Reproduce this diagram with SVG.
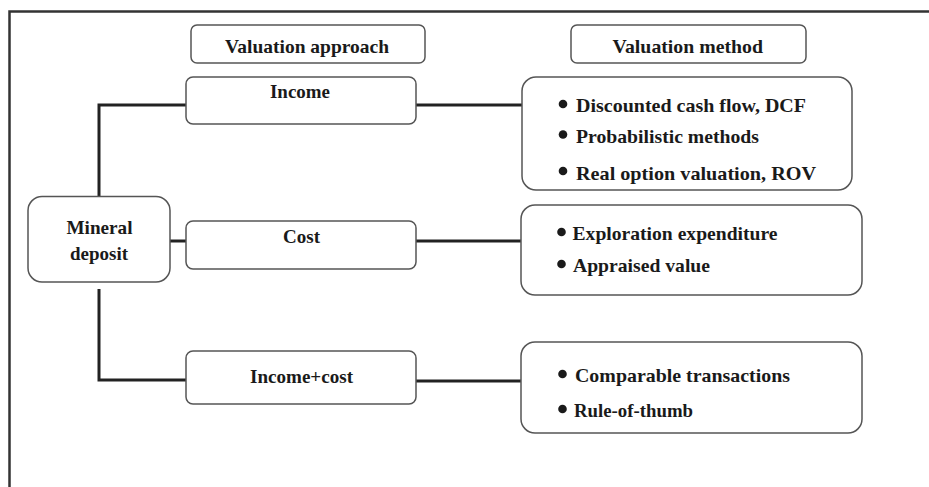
<svg xmlns="http://www.w3.org/2000/svg" width="929" height="487" viewBox="0 0 929 487">
<style>
.box{fill:#fff;stroke:#555;stroke-width:1.5}
.t{font-family:"Liberation Serif","Tinos","Noto Serif","DejaVu Serif","Times New Roman",serif;font-weight:bold;font-size:19px;fill:#1a1a1a}
.con{fill:none;stroke:#222;stroke-width:3}
.b{fill:#1a1a1a}
</style>
<rect width="929" height="487" fill="#fff"/>
<path d="M9.5,487 V11.5 H929" fill="none" stroke="#333" stroke-width="2.5"/>
<g id="connectors">
<path class="con" d="M186,105 H99 V196"/>
<path class="con" d="M170,241 H186"/>
<path class="con" d="M99,289 V380 H186"/>
<path class="con" d="M416,105 H522"/>
<path class="con" d="M416,241 H521"/>
<path class="con" d="M416,381 H521"/>
</g>
<g id="hdr-approach">
<rect class="box" x="191" y="25" width="234" height="38" rx="6"/>
<text class="t" x="225" y="53" textLength="164" lengthAdjust="spacingAndGlyphs">Valuation approach</text>
</g>
<g id="hdr-method">
<rect class="box" x="571" y="25" width="235" height="38" rx="6"/>
<text class="t" x="612.5" y="53" textLength="150.5" lengthAdjust="spacingAndGlyphs">Valuation method</text>
</g>
<g id="mineral">
<rect class="box" x="28" y="196.5" width="142" height="85.5" rx="14"/>
<text class="t" x="66.5" y="234" textLength="66" lengthAdjust="spacingAndGlyphs">Mineral</text>
<text class="t" x="70" y="260" textLength="58" lengthAdjust="spacingAndGlyphs">deposit</text>
</g>
<g id="income">
<rect class="box" x="186" y="77" width="230" height="47" rx="7"/>
<text class="t" x="270" y="98" textLength="60" lengthAdjust="spacingAndGlyphs">Income</text>
</g>
<g id="cost">
<rect class="box" x="186" y="221" width="230" height="48" rx="7"/>
<text class="t" x="283" y="242.5" textLength="37" lengthAdjust="spacingAndGlyphs">Cost</text>
</g>
<g id="incomecost">
<rect class="box" x="186" y="351" width="230" height="53" rx="7"/>
<text class="t" x="250" y="383" textLength="103" lengthAdjust="spacingAndGlyphs">Income+cost</text>
</g>
<g id="methods-income">
<rect class="box" x="522" y="77" width="330" height="113" rx="14"/>
<circle class="b" cx="563" cy="104" r="4.3"/>
<text class="t" x="576" y="111.5" textLength="230" lengthAdjust="spacingAndGlyphs">Discounted cash flow, DCF</text>
<circle class="b" cx="563" cy="134.5" r="4.3"/>
<text class="t" x="576" y="143" textLength="183" lengthAdjust="spacingAndGlyphs">Probabilistic methods</text>
<circle class="b" cx="563" cy="171" r="4.3"/>
<text class="t" x="576" y="180" textLength="240" lengthAdjust="spacingAndGlyphs">Real option valuation, ROV</text>
</g>
<g id="methods-cost">
<rect class="box" x="521" y="205" width="341" height="90" rx="14"/>
<circle class="b" cx="561.5" cy="232" r="4.3"/>
<text class="t" x="572.5" y="240" textLength="205" lengthAdjust="spacingAndGlyphs">Exploration expenditure</text>
<circle class="b" cx="561.5" cy="264" r="4.3"/>
<text class="t" x="573" y="272" textLength="137" lengthAdjust="spacingAndGlyphs">Appraised value</text>
</g>
<g id="methods-incomecost">
<rect class="box" x="521" y="342" width="341" height="91" rx="14"/>
<circle class="b" cx="562.5" cy="374" r="4.3"/>
<text class="t" x="575" y="381.5" textLength="215" lengthAdjust="spacingAndGlyphs">Comparable transactions</text>
<circle class="b" cx="562.5" cy="409" r="4.3"/>
<text class="t" x="574" y="416.5" textLength="119" lengthAdjust="spacingAndGlyphs">Rule-of-thumb</text>
</g>
</svg>
